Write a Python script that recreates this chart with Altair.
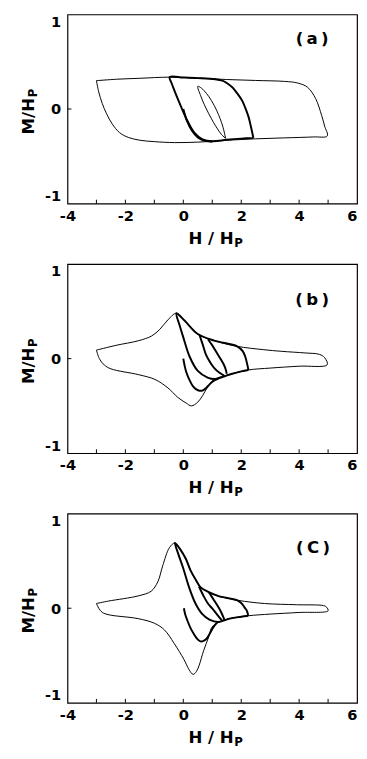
import altair as alt
import pandas as pd

# ---------------- panel (a) ----------------
A_MAJOR_H = [-3.0, -2.92, -2.8, -2.65, -2.45, -2.2, -1.9, -1.5, -1.0, -0.3, 0.5, 1.5, 2.5, 3.5, 4.5, 4.97,
             4.88, 4.78, 4.57, 4.29, 3.95, 3.5, 2.5, 1.5, 0.5, -0.47, -1.5, -2.3, -3.0]
A_MAJOR_M = [0.30, 0.18, 0.06, -0.05, -0.16, -0.25, -0.30, -0.33, -0.345, -0.355, -0.35, -0.33, -0.315, -0.305, -0.295, -0.285,
             -0.18, -0.07, 0.11, 0.23, 0.275, 0.292, 0.302, 0.312, 0.327, 0.337, 0.325, 0.315, 0.30]
A_LOOP_H = [2.42, 2.33, 2.25, 2.13, 2.03, 1.85, 1.69, 1.5, 1.35, 1.1, 0.5, 0.0, -0.47, -0.40, -0.30, -0.18, -0.07, 0.15, 0.38, 0.66, 1.0, 1.5, 2.0, 2.42]
A_LOOP_M = [-0.305, -0.18, -0.08, 0.02, 0.09, 0.17, 0.23, 0.275, 0.30, 0.315, 0.327, 0.333, 0.337, 0.27, 0.19, 0.10, 0.02, -0.13, -0.25, -0.32, -0.34, -0.325, -0.313, -0.305]
A_LENS_H = [1.46, 1.36, 1.16, 0.97, 0.8, 0.63, 0.5, 0.6, 0.72, 0.88, 1.04, 1.18, 1.32, 1.46]
A_LENS_M = [-0.31, -0.18, -0.02, 0.09, 0.165, 0.22, 0.24, 0.14, 0.05, -0.05, -0.14, -0.21, -0.27, -0.31]
A_VIRGIN_H = [0.0, 0.12, 0.3, 0.5, 0.75, 1.0]
A_VIRGIN_M = [0.0, -0.12, -0.23, -0.3, -0.335, -0.345]

# ---------------- panel (b) ----------------
B_MAJOR_H = [-3.0, -2.33, -1.54, -1.09, -0.81, -0.53, -0.24, 0.05, 0.5, 1.07, 1.86, 2.76, 3.4, 4.2, 4.7, 4.88, 4.97,
             4.0, 3.0, 2.25, 1.63, 1.07, 0.84, 0.67, 0.5, 0.28, 0.1, -0.19, -0.53, -0.98, -1.54, -2.5, -2.73, -2.9, -3.0]
B_MAJOR_M = [0.09, 0.14, 0.19, 0.24, 0.31, 0.41, 0.48, 0.40, 0.26, 0.19, 0.13, 0.095, 0.077, 0.06, 0.045, 0.01, -0.065,
             -0.08, -0.10, -0.12, -0.165, -0.22, -0.30, -0.39, -0.46, -0.50, -0.47, -0.41, -0.31, -0.22, -0.17, -0.108, -0.067, 0.0, 0.09]
B_LOOP_H = [2.25, 2.2, 2.14, 2.05, 1.86, 1.07, 0.5, 0.05, -0.24, -0.12, 0.0, 0.22, 0.5, 0.84, 1.1, 1.4, 1.63, 2.0, 2.25]
B_LOOP_M = [-0.12, -0.05, 0.02, 0.08, 0.13, 0.19, 0.26, 0.40, 0.48, 0.345, 0.225, 0.02, -0.13, -0.20, -0.215, -0.19, -0.165, -0.135, -0.12]
B_Q_H = [0.56, 0.68, 0.79, 0.93, 1.07, 1.25, 1.41]
B_Q_M = [0.25, 0.14, 0.036, -0.04, -0.10, -0.15, -0.18]
B_R_H = [0.85, 1.0, 1.18, 1.3, 1.41, 1.47, 1.5]
B_R_M = [0.205, 0.14, 0.05, -0.01, -0.07, -0.12, -0.16]
B_VIRGIN_H = [0.0, 0.05, 0.11, 0.22, 0.33, 0.45, 0.56, 0.68, 0.79, 0.9, 1.02, 1.2]
B_VIRGIN_M = [0.0, -0.08, -0.15, -0.23, -0.29, -0.325, -0.34, -0.335, -0.31, -0.275, -0.24, -0.215]

# ---------------- panel (c) ----------------
C_MAJOR_H = [-3.0, -2.58, -1.56, -1.11, -0.88, -0.71, -0.48, -0.29, -0.1, 0.09, 0.25, 0.43, 0.6, 0.88, 1.22, 1.9, 2.8, 3.9, 4.85, 4.95, 5.0,
             4.0, 3.0, 2.24, 1.6, 1.22, 0.99, 0.88, 0.7, 0.54, 0.45, 0.34, 0.2, 0.02, -0.32, -0.65, -0.99, -1.56, -2.56, -2.8, -2.92, -3.0]
C_MAJOR_M = [0.05, 0.076, 0.13, 0.18, 0.28, 0.45, 0.64, 0.69, 0.62, 0.52, 0.40, 0.30, 0.22, 0.17, 0.128, 0.083, 0.05, 0.037, 0.027, 0.01, -0.027,
             -0.045, -0.062, -0.08, -0.11, -0.15, -0.20, -0.30, -0.45, -0.61, -0.67, -0.70, -0.65, -0.54, -0.37, -0.23, -0.16, -0.11, -0.07, -0.044, 0.0, 0.05]
C_LOOP_H = [2.24, 2.2, 2.12, 2.0, 1.85, 1.22, 0.88, 0.6, 0.43, 0.25, 0.09, -0.1, -0.29, -0.18, 0.0, 0.2, 0.42, 0.65, 0.9, 1.22, 1.6, 2.0, 2.24]
C_LOOP_M = [-0.08, -0.03, 0.007, 0.055, 0.085, 0.128, 0.17, 0.22, 0.30, 0.40, 0.52, 0.62, 0.69, 0.58, 0.42, 0.22, 0.05, -0.06, -0.12, -0.145, -0.11, -0.09, -0.08]
C_Q_H = [0.54, 0.7, 0.85, 0.99, 1.15, 1.28, 1.35]
C_Q_M = [0.23, 0.13, 0.05, 0.0, -0.06, -0.11, -0.135]
C_R_H = [0.88, 1.05, 1.22, 1.32, 1.39, 1.42]
C_R_M = [0.17, 0.09, 0.007, -0.05, -0.10, -0.125]
C_VIRGIN_H = [0.02, 0.07, 0.14, 0.25, 0.36, 0.47, 0.59, 0.7, 0.81, 0.93, 1.04, 1.17]
C_VIRGIN_M = [0.0, -0.07, -0.13, -0.21, -0.27, -0.32, -0.35, -0.345, -0.32, -0.26, -0.20, -0.15]

X_TICKS = [-3, -2, -1, 0, 1, 2, 3, 4, 5]
X_LABELS = [-4, -2, 0, 2, 4, 6]
Y_LABELS = [-1, 0, 1]
PANEL_TEXT = ["(\u2009a\u2009)", "(\u2009b\u2009)", "(\u2009C\u2009)"]
PANEL_POS_H = [4.45, 4.45, 4.48]
PANEL_POS_M = [0.74, 0.62, 0.64]

W, HGT = 297, 194
BOLD = "DejaVu Sans"


def curves(items):
    frames = []
    for name, hs, ms in items:
        frames.append(pd.DataFrame({"H": hs, "M": ms, "seg": name, "ord": list(range(len(hs)))}))
    return pd.concat(frames, ignore_index=True)


xs = alt.Scale(domain=[-4, 6], nice=False, zero=False)
ys = alt.Scale(domain=[-1, 1], nice=False, zero=False)
lab_expr = "datum.value < 0 ? '-' + abs(datum.value) : '' + datum.value"
x_axis = alt.Axis(values=X_LABELS, title=None, tickSize=0, domain=False, grid=False,
                  labelFont=BOLD, labelFontWeight="bold", labelFontSize=15, labelColor="black",
                  labelPadding=5, labelFlush=False, labelExpr=lab_expr,
                  labelAlign=alt.condition("datum.value == 6", alt.value("right"), alt.value("center")))
y_axis = alt.Axis(values=Y_LABELS, title=None, tickSize=0, domain=False, grid=False,
                  labelFont=BOLD, labelFontWeight="bold", labelFontSize=15, labelColor="black",
                  labelPadding=7, labelFlush=True, labelExpr=lab_expr)


def panel(thin_items, thick_items, idx):
    thin = alt.Chart(curves(thin_items)).mark_line(
        interpolate="catmull-rom", color="black", strokeWidth=1.0
    ).encode(
        x=alt.X("H:Q", scale=xs, axis=x_axis),
        y=alt.Y("M:Q", scale=ys, axis=y_axis),
        detail="seg:N", order="ord:Q",
    )
    thick = alt.Chart(curves(thick_items)).mark_line(
        interpolate="catmull-rom", color="black", strokeWidth=2.0
    ).encode(x="H:Q", y="M:Q", detail="seg:N", order="ord:Q")
    xt = alt.Chart(pd.DataFrame({"H": X_TICKS})).mark_rule(color="black", strokeWidth=1).encode(
        x="H:Q", y=alt.value(HGT), y2=alt.value(HGT - 4))
    yt = alt.Chart(pd.DataFrame({"M": [0]})).mark_rule(color="black", strokeWidth=1).encode(
        y="M:Q", x=alt.value(0), x2=alt.value(4))
    lab = alt.Chart(pd.DataFrame({"H": [PANEL_POS_H[idx]], "M": [PANEL_POS_M[idx]], "t": [PANEL_TEXT[idx]]})).mark_text(
        font=BOLD, fontWeight="bold", fontSize=17, color="black", align="center", baseline="middle"
    ).encode(x="H:Q", y="M:Q", text="t:N")
    xtitle = alt.Chart(pd.DataFrame({"t": ["H / H"]})).mark_text(
        font=BOLD, fontWeight="bold", fontSize=17, color="black", align="left", baseline="alphabetic"
    ).encode(x=alt.value(124), y=alt.value(HGT + 41), text="t:N")
    xsub = alt.Chart(pd.DataFrame({"t": ["P"]})).mark_text(
        font=BOLD, fontWeight="bold", fontSize=12, color="black", align="left", baseline="alphabetic"
    ).encode(x=alt.value(171), y=alt.value(HGT + 44), text="t:N")
    ytitle = alt.Chart(pd.DataFrame({"t": ["M/H"]})).mark_text(
        font=BOLD, fontWeight="bold", fontSize=17, color="black", align="left", baseline="alphabetic", angle=270
    ).encode(x=alt.value(-34), y=alt.value(123), text="t:N")
    ysub = alt.Chart(pd.DataFrame({"t": ["P"]})).mark_text(
        font=BOLD, fontWeight="bold", fontSize=12, color="black", align="left", baseline="alphabetic", angle=270
    ).encode(x=alt.value(-31), y=alt.value(85), text="t:N")
    return alt.layer(thin, thick, xt, yt, lab, xtitle, xsub, ytitle, ysub).properties(width=W, height=HGT)


pa = panel([("major", A_MAJOR_H, A_MAJOR_M), ("lens", A_LENS_H, A_LENS_M)],
           [("loop", A_LOOP_H, A_LOOP_M), ("virgin", A_VIRGIN_H, A_VIRGIN_M)], 0)
pb = panel([("major", B_MAJOR_H, B_MAJOR_M)],
           [("loop", B_LOOP_H, B_LOOP_M), ("q", B_Q_H, B_Q_M), ("r", B_R_H, B_R_M),
            ("virgin", B_VIRGIN_H, B_VIRGIN_M)], 1)
pc = panel([("major", C_MAJOR_H, C_MAJOR_M)],
           [("loop", C_LOOP_H, C_LOOP_M), ("q", C_Q_H, C_Q_M), ("r", C_R_H, C_R_M),
            ("virgin", C_VIRGIN_H, C_VIRGIN_M)], 2)

chart = alt.vconcat(pa, pb, pc, spacing=13).properties(
    padding={"left": 12, "top": -5, "right": 0, "bottom": 0}, background="white"
).configure_view(stroke="black", strokeWidth=1.2)

chart.save("out.html", embed_options={"renderer": "svg", "actions": False})
